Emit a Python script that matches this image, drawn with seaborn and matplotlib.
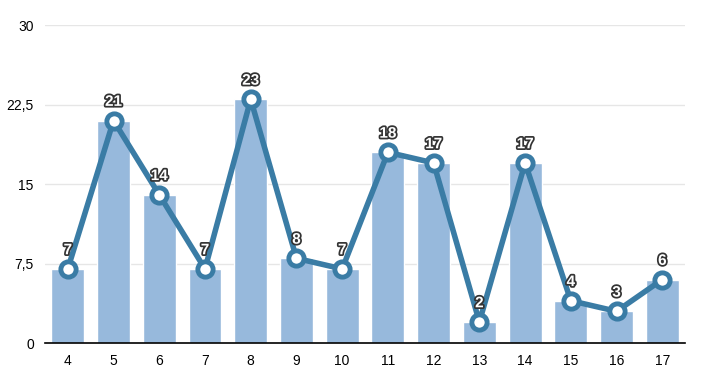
import matplotlib
matplotlib.use("Agg")
import matplotlib.pyplot as plt
import matplotlib.patheffects as pe
from matplotlib.ticker import FuncFormatter
import seaborn as sns
import pandas as pd

categories = ["4", "5", "6", "7", "8", "9", "10", "11", "12", "13", "14", "15", "16", "17"]
values = [7, 21, 14, 7, 23, 8, 7, 18, 17, 2, 17, 4, 3, 6]
y_ticks = [0, 7.5, 15, 22.5, 30]

data = pd.DataFrame({"category": categories, "value": values})

sns.set_style("white")
plt.rcParams['font.family'] = ['Liberation Sans', 'DejaVu Sans']

fig = plt.figure(figsize=(7.02, 3.75), dpi=100)
ax = fig.add_axes([0.064, 0.085, 0.912, 0.848])

sns.barplot(data=data, x="category", y="value", color="#97b9dc", saturation=1,
            width=0.72, ax=ax, zorder=2)
ax.plot(range(len(values)), values, color="#3a7ca5", lw=4, zorder=3,
        marker="o", markersize=11, markerfacecolor="white",
        markeredgecolor="#3a7ca5", markeredgewidth=3.5)

for i, v in enumerate(values):
    ax.text(i, v + 1.1, str(v), ha="center", va="bottom", fontsize=11,
            color="white", fontweight="bold", zorder=4,
            path_effects=[pe.withStroke(linewidth=2.5, foreground="#333333")])

ax.set_xlim(-0.5, len(values) - 0.5)
ax.set_ylim(0, 30)
ax.set_yticks(y_ticks)
ax.yaxis.set_major_formatter(FuncFormatter(lambda v, p: ("%g" % v).replace(".", ",")))
ax.grid(axis="y", color="#e6e6e6", lw=1, zorder=0)
ax.set_axisbelow(True)
sns.despine(ax=ax, left=True)
ax.spines["bottom"].set_color("black")
ax.spines["bottom"].set_linewidth(1.2)
ax.tick_params(axis="both", length=0, labelsize=10, colors="black", pad=8)
ax.set_xlabel("")
ax.set_ylabel("")

fig.savefig("out.png", dpi=100)
